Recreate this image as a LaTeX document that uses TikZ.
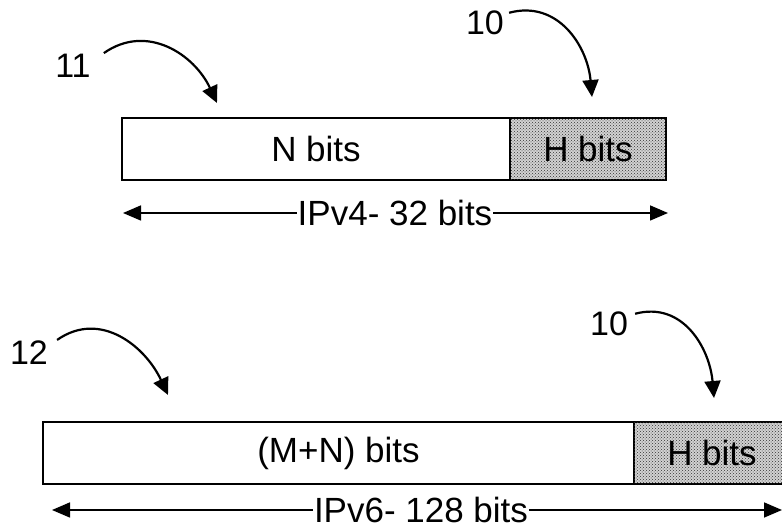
\documentclass[tikz,border=0pt]{standalone}
\usepackage{fontspec}
\setmainfont{Liberation Sans}
\usetikzlibrary{arrows.meta,patterns,positioning}

\tikzset{
  field/.style={draw=black, line width=2pt, minimum height=62pt, inner sep=0pt, outer sep=0pt, font=\fontsize{35}{40}\selectfont},
  hostfield/.style={field, fill=gray!35, postaction={pattern=crosshatch dots, pattern color=black!80}},
  num/.style={inner sep=1pt, font=\fontsize{34}{38}\selectfont},
  dimlbl/.style={inner sep=1pt, font=\fontsize{35}{40}\selectfont},
  dimarrow/.style={black, line width=1.6pt, -{Triangle[length=18pt,width=15pt]}},
  pointer/.style={black, line width=2.2pt, -{Triangle[length=17pt,width=16pt]}}
}

\begin{document}
\begin{tikzpicture}[x=1pt, y=1pt]
\useasboundingbox (0,0) rectangle (782,529);

% IPv4 address
\node[field, minimum width=388pt, anchor=west] (net4) at (122,380) {N bits};
\node[hostfield, minimum width=156pt, anchor=west] (host4) at (net4.east) {H bits};
\node[dimlbl] (v4) at (395,316) {IPv4- 32 bits};
\coordinate (v4l) at ([xshift=1pt]net4.west |- v4);
\coordinate (v4r) at ([xshift=2pt]host4.east |- v4);
\draw[dimarrow] (v4.west) -- (v4l);
\draw[dimarrow] (v4.east) -- (v4r);

\node[num] (n11) at (73,463) {11};
\coordinate (t11) at (217,426);
\draw[pointer] ([xshift=12pt]n11.north east) to[out=35, in=115, looseness=1.1] (t11);

\node[num] (n10a) at (485,506) {10};
\coordinate (t10a) at (592,432);
\draw[pointer] ([xshift=4pt,yshift=-3pt]n10a.north east) to[out=15, in=95, looseness=1.1] (t10a);

% IPv6 address
\node[field, minimum width=591pt, anchor=west] (net6) at (43,76) {(M+N) bits};
\node[hostfield, minimum width=156pt, anchor=west] (host6) at (net6.east) {H bits};
\node[dimlbl] (v6) at (421,19) {IPv6- 128 bits};
\coordinate (v6l) at ([xshift=9pt]net6.west |- v6);
\coordinate (v6r) at (782,19);
\draw[dimarrow] (v6.west) -- (v6l);
\draw[dimarrow] (v6.east) -- (v6r);

\node[num] (n12) at (29,176) {12};
\coordinate (t12) at (168,134);
\draw[pointer] ([xshift=8pt]n12.north east) to[out=35, in=115, looseness=1.1] (t12);

\node[num] (n10b) at (609,205) {10};
\coordinate (t10b) at (714,131);
\draw[pointer] ([xshift=6pt,yshift=-3pt]n10b.north east) to[out=15, in=95, looseness=1.1] (t10b);
\end{tikzpicture}
\end{document}
